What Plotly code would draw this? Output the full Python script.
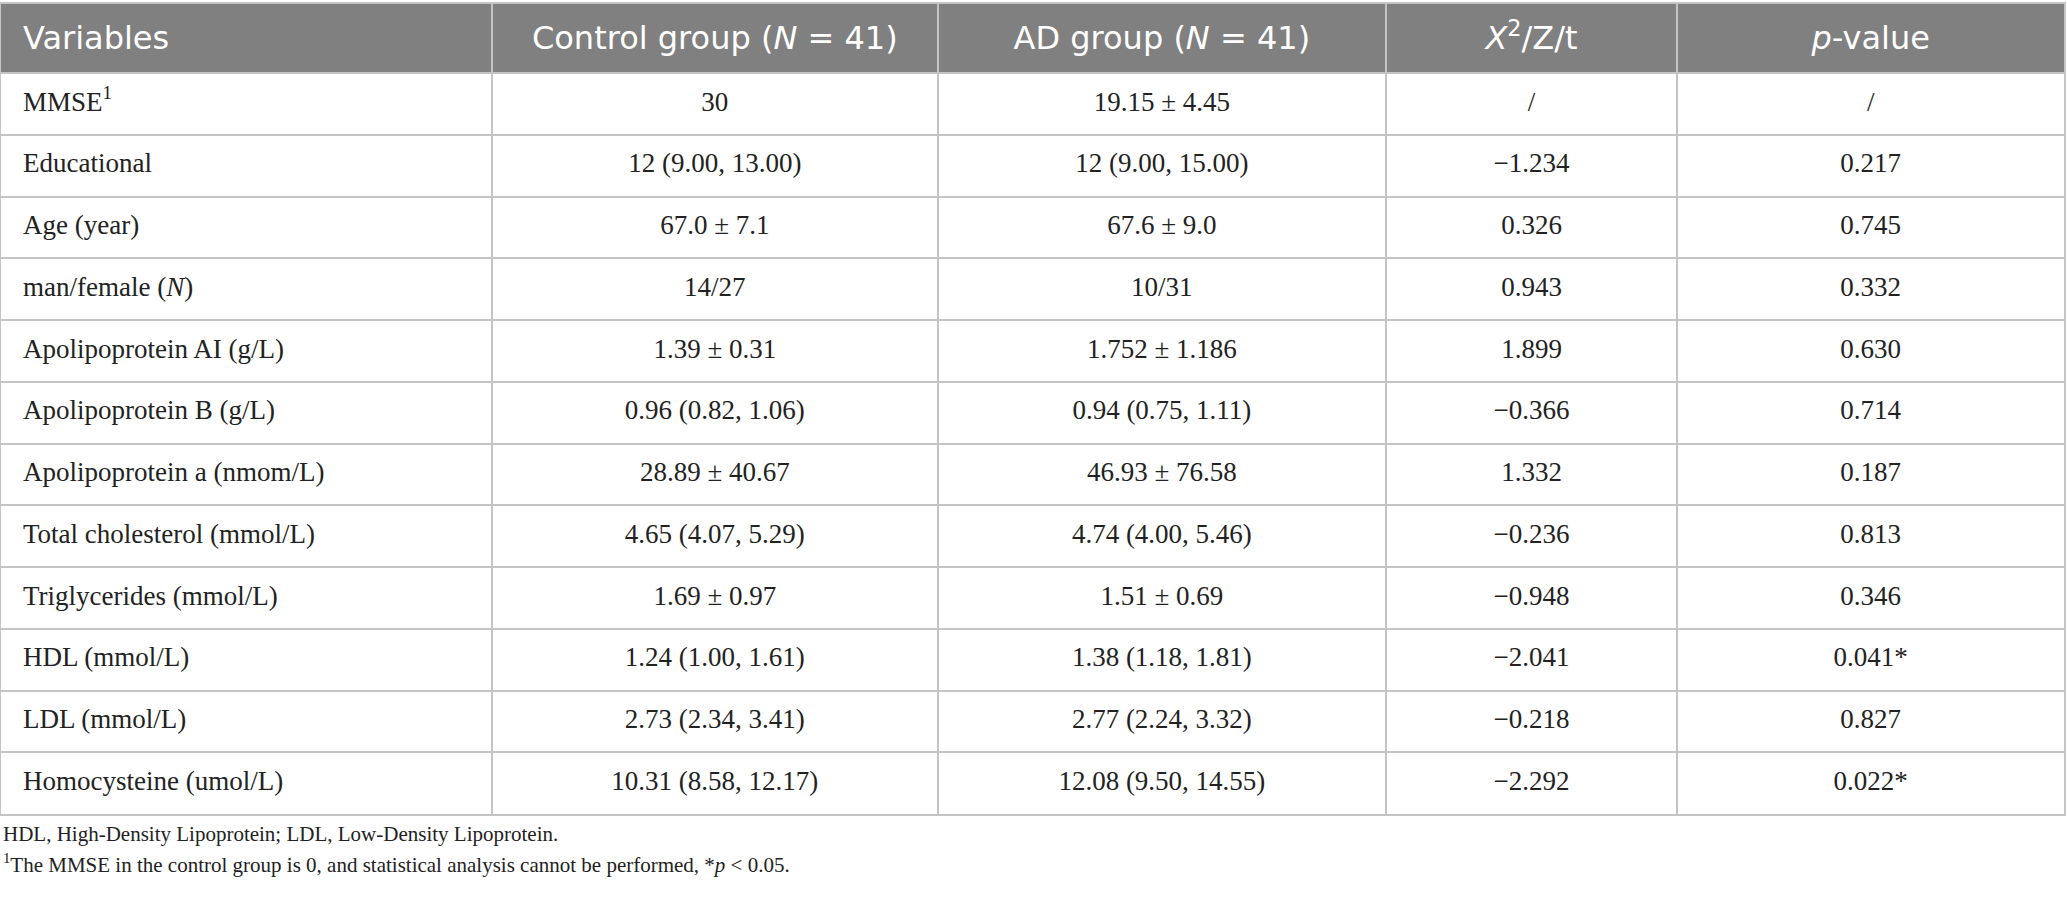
import plotly.graph_objects as go

# table content
headers = ["Variables", "Control group (<i>N</i> = 41)", "AD group (<i>N</i> = 41)",
           "<i>X</i><sup>2</sup>/Z/t", "<i>p</i>-value"]

variables = ["MMSE<sup>1</sup>", "Educational", "Age (year)", "man/female (<i>N</i>)",
             "Apolipoprotein AI (g/L)", "Apolipoprotein B (g/L)", "Apolipoprotein a (nmom/L)",
             "Total cholesterol (mmol/L)", "Triglycerides (mmol/L)", "HDL (mmol/L)",
             "LDL (mmol/L)", "Homocysteine (umol/L)"]

control = ["30", "12 (9.00, 13.00)", "67.0 ± 7.1", "14/27", "1.39 ± 0.31",
           "0.96 (0.82, 1.06)", "28.89 ± 40.67", "4.65 (4.07, 5.29)", "1.69 ± 0.97",
           "1.24 (1.00, 1.61)", "2.73 (2.34, 3.41)", "10.31 (8.58, 12.17)"]

ad_group = ["19.15 ± 4.45", "12 (9.00, 15.00)", "67.6 ± 9.0", "10/31", "1.752 ± 1.186",
            "0.94 (0.75, 1.11)", "46.93 ± 76.58", "4.74 (4.00, 5.46)", "1.51 ± 0.69",
            "1.38 (1.18, 1.81)", "2.77 (2.24, 3.32)", "12.08 (9.50, 14.55)"]

stat = ["/", "−1.234", "0.326", "0.943", "1.899", "−0.366", "1.332", "−0.236",
        "−0.948", "−2.041", "−0.218", "−2.292"]

p_value = ["/", "0.217", "0.745", "0.332", "0.630", "0.714", "0.187", "0.813",
           "0.346", "0.041*", "0.827", "0.022*"]

footnotes = ["HDL, High-Density Lipoprotein; LDL, Low-Density Lipoprotein.",
             "<sup>1</sup>The MMSE in the control group is 0, and statistical analysis cannot be performed, *<i>p</i> &lt; 0.05."]

# layout in pixels (axes are set up so one unit = one pixel)
W, H = 2067, 907
col_widths = [491, 447, 448, 292, 387]
table_top, header_h, row_h = 4, 69, 61.75
text_indent = 22
grid_color = "#c4c4c4"
body_font = dict(family = "Liberation Serif", size = 27, color = "#222222")

edges = [0]
for w in col_widths:
  edges.append(edges[-1] + w)
centers = [(a + b) / 2 for a, b in zip(edges[:-1], edges[1:])]

header_bottom = table_top + header_h
row_edges = [header_bottom + row_h * i for i in range(len(variables) + 1)]
row_centers = [(a + b) / 2 for a, b in zip(row_edges[:-1], row_edges[1:])]
table_bottom = row_edges[-1]

fig = go.Figure()

# header row (nudged down a little so the caps sit in the middle of the band)
fig.add_trace(go.Scatter(
  x = [text_indent] + centers[1:], y = [(table_top + header_bottom) / 2 + 2.5] * len(headers),
  text = headers, mode = "text",
  textposition = ["middle right"] + ["middle center"] * (len(headers) - 1),
  textfont = dict(family = "DejaVu Sans", size = 32, color = "white"),
  hoverinfo = "skip", showlegend = False, cliponaxis = False))

# body columns
columns = [variables, control, ad_group, stat, p_value]
for i, col in enumerate(columns):
  fig.add_trace(go.Scatter(
    x = [text_indent if i == 0 else centers[i]] * len(col), y = row_centers,
    text = col, mode = "text",
    textposition = "middle right" if i == 0 else "middle center",
    textfont = body_font,
    hoverinfo = "skip", showlegend = False, cliponaxis = False))

# grey header band
fig.add_shape(type = "rect", xref = "paper", yref = "y", x0 = 0, x1 = 1,
              y0 = table_top, y1 = header_bottom, fillcolor = "#808080",
              line_width = 0, layer = "below")

# footnotes below the table
plot_h = table_bottom - table_top
for i, txt in enumerate(footnotes):
  ypix = 834 + 29 * i
  fig.add_annotation(text = txt, xref = "paper", yref = "paper",
                     x = 0, y = (table_bottom - ypix) / plot_h,
                     xanchor = "left", yanchor = "middle", showarrow = False,
                     font = dict(family = "Liberation Serif", size = 21, color = "#222222"))

axis_style = dict(showgrid = True, gridcolor = grid_color, gridwidth = 1.5,
                  showline = True, mirror = True, linecolor = grid_color, linewidth = 1.5,
                  zeroline = False, showticklabels = False, ticks = "", fixedrange = True)

fig.update_layout(
  width = W, height = H,
  margin = dict(l = 1, r = W - 1 - edges[-1], t = table_top, b = H - table_bottom),
  paper_bgcolor = "white", plot_bgcolor = "white",
  xaxis = dict(range = [0, edges[-1]], tickvals = edges[1:-1], **axis_style),
  yaxis = dict(range = [table_bottom, table_top], tickvals = row_edges[:-1], **axis_style))

fig.write_html("out.html", config = {"displayModeBar": False},
               post_script = "document.body.style.margin='0';")
